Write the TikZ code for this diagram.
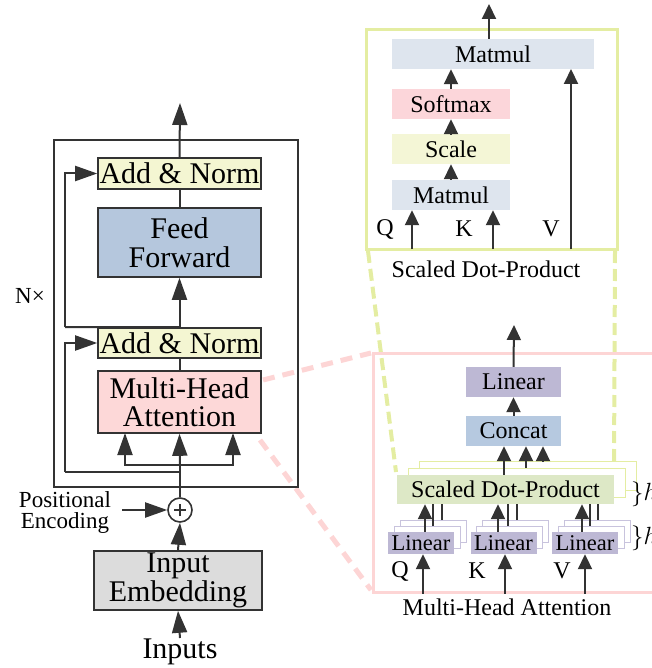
\documentclass[tikz,border=0pt]{standalone}
\usepackage{fontspec}
\setmainfont{Liberation Serif}
\usetikzlibrary{arrows.meta}

\definecolor{edge}{HTML}{333333}
\definecolor{normfill}{HTML}{F4F6D2}
\definecolor{fffill}{HTML}{B5C7DD}
\definecolor{attfill}{HTML}{FDD8D8}
\definecolor{embfill}{HTML}{DCDCDC}
\definecolor{matfill}{HTML}{DEE5EE}
\definecolor{softfill}{HTML}{FCD6DA}
\definecolor{scalefill}{HTML}{F4F6D6}
\definecolor{linfill}{HTML}{BDB8D4}
\definecolor{catfill}{HTML}{B6C9E0}
\definecolor{sdpfill}{HTML}{DDE8C6}
\definecolor{sdpline}{HTML}{E4EDA2}
\definecolor{mhaline}{HTML}{FDD5D5}
\definecolor{linline}{HTML}{C8C3DD}

\newcommand\fbig{\fontsize{30}{28.5}\selectfont}
\newcommand\fmid{\fontsize{24}{24}\selectfont}
\newcommand\fpos{\fontsize{23}{21}\selectfont}
\newcommand\fsml{\fontsize{22.5}{22.5}\selectfont}

\tikzset{
  blk/.style={draw=edge, line width=1.6pt, inner sep=0pt, align=center, font=\fbig},
  pane/.style={inner sep=0pt, align=center, font=\fmid},
  bigarr/.style={draw=edge, line width=2pt, -{Triangle[width=15pt,length=22pt]}},
  smallarr/.style={draw=edge, line width=2pt, -{Triangle[width=14pt,length=15pt]}},
  wire/.style={draw=edge, line width=2pt},
  lbl/.style={inner sep=0pt, font=\fmid},
  zoomdash/.style={line width=5pt, dash pattern=on 12pt off 8pt},
}

\begin{document}
\begin{tikzpicture}[x=1pt,y=-1pt]
\useasboundingbox (0,0) rectangle (651,668);

% ---------- zoom guides ----------
\draw[mhaline, zoomdash] (263,380) coordinate (gA) -- (371,353) coordinate (gB);
\draw[mhaline, zoomdash] (260,440) coordinate (gC) -- (371,590) coordinate (gD);
\draw[sdpline, line width=4pt, dash pattern=on 12pt off 6pt] (368,251) coordinate (gE) -- (396,472) coordinate (gF);
\draw[sdpline, line width=4pt, dash pattern=on 12pt off 6pt] (615,251) coordinate (gG) -- (614,468) coordinate (gH);

% ---------- encoder stack ----------
\node[draw=edge, line width=1.6pt, minimum width=244pt, minimum height=347pt, inner sep=0pt] (enc) at (176,313.5) {};
\node[blk, fill=normfill, minimum width=163pt, minimum height=31pt] (an2) at (179.5,173.5) {Add \& Norm};
\node[blk, fill=fffill, minimum width=163pt, minimum height=69pt] (ff) at (179.5,242.5) {Feed\\Forward};
\node[blk, fill=normfill, minimum width=163pt, minimum height=30pt] (an1) at (179.5,343) {Add \& Norm};
\node[blk, fill=attfill, minimum width=163pt, minimum height=62pt] (mha) at (179.5,402) {Multi-Head\\Attention};
\node[circle, draw=edge, line width=1.6pt, minimum size=24pt, inner sep=0pt] (plus) at (180,510) {};
\draw[edge, line width=1.4pt] ([xshift=-6pt]plus.center) -- ([xshift=6pt]plus.center)
      ([yshift=-6pt]plus.center) -- ([yshift=6pt]plus.center);
\node[blk, fill=embfill, minimum width=168pt, minimum height=59pt] (emb) at (178,580.5) {Input\\Embedding};
\node[inner sep=0pt, font=\fbig] (inp) at (180,652) {Inputs};
\node[inner sep=0pt, font=\fpos, align=center] (pe) at (65,512) {Positional\\Encoding};
\node[inner sep=0pt, font=\fpos] (nx) at (30,296) {N×};

\coordinate (out) at (180,103);
\coordinate (lanetop) at (65,327);
\coordinate (lanebot) at (65,472);
\coordinate (fork) at (180,465);
\coordinate (tap) at (180,472);
\coordinate (qin) at (125,433);
\coordinate (vin) at (233,433);
\coordinate (petail) at (122,510);
\coordinate (intail) at (180,638);

\draw[bigarr] (an2.north) -- (out);
\draw[wire] (ff.north) -- (an2.south);
\draw[bigarr] (an1.north) -- (ff.south);
\draw[wire] (an1.north) -- (lanetop);
\draw[bigarr] (lanetop) |- (an2.west);
\draw[wire] (mha.north) -- (an1.south);
\draw[wire] (plus.north) -- (fork);
\draw[bigarr] (fork) -- (mha.south);
\draw[bigarr] (fork) -| (qin);
\draw[bigarr] (fork) -| (vin);
\draw[wire] (tap) -- (lanebot);
\draw[bigarr] (lanebot) |- (an1.west);
\draw[bigarr] (petail) -- (plus.west);
\draw[bigarr] (emb.north) -- (plus.south);
\draw[bigarr] (intail) -- (emb.south);

% ---------- scaled dot-product attention ----------
\node[draw=sdpline, line width=3pt, minimum width=251pt, minimum height=219pt, inner sep=0pt] (sdpframe) at (491.5,139.5) {};
\node[pane, fill=matfill, minimum width=202pt, minimum height=30pt] (mm2) at (493,54) {Matmul};
\node[pane, fill=softfill, minimum width=118pt, minimum height=30pt] (sm) at (451,104) {Softmax};
\node[pane, fill=scalefill, minimum width=118pt, minimum height=30pt] (sc) at (451,149) {Scale};
\node[pane, fill=matfill, minimum width=118pt, minimum height=30pt] (mm1) at (451,195) {Matmul};
\node[lbl] (tq) at (385,229) {Q};
\node[lbl] (tk) at (464,229) {K};
\node[lbl] (tv) at (551,229) {V};
\node[lbl] (tsdp) at (486,269) {Scaled Dot-Product};

\coordinate (sdpout0) at (489,39);
\coordinate (sdpout) at (489,4);
\coordinate (qa) at (412,249);
\coordinate (ka) at (493,249);
\coordinate (va) at (571,249);
\coordinate (vb) at (571,69);

\draw[smallarr] (sdpout0) -- (sdpout);
\draw[smallarr] (mm1.north) -- (sc.south);
\draw[smallarr] (sc.north) -- (sm.south);
\draw[smallarr] (sm.north) -- (sm.north |- mm2.south);
\draw[smallarr] (qa) -- (qa |- mm1.south);
\draw[smallarr] (ka) -- (ka |- mm1.south);
\draw[smallarr] (va) -- (vb);

% ---------- multi-head attention ----------
\node[draw=mhaline, line width=3pt, minimum width=300pt, minimum height=239pt, inner sep=0pt] (mhaframe) at (523,472.5) {};
\node[pane, fill=linfill, minimum width=95pt, minimum height=30pt] (lin) at (513.5,382) {Linear};
\node[pane, fill=catfill, minimum width=95pt, minimum height=30pt] (cat) at (513.5,431) {Concat};

% stacked heads of the attention block
\node[draw=sdpline, line width=1pt, fill=white, minimum width=217pt, minimum height=29pt] (sdp2) at (527.5,475.5) {};
\node[draw=sdpline, line width=1pt, fill=white, minimum width=217pt, minimum height=29pt] (sdp1) at (516.5,482.5) {};
\node[pane, fill=sdpfill, minimum width=217pt, minimum height=29pt] (sdp) at (505.5,489.5) {Scaled Dot-Product};

% stacked linear projections
\foreach \nm/\cx in {la/421, lb/503.5, lc/585} {
  \node[draw=linline, line width=1pt, fill=white, minimum width=66pt, minimum height=22pt] (\nm2) at (\cx+12,531) {};
  \node[draw=linline, line width=1pt, fill=white, minimum width=66pt, minimum height=22pt] (\nm1) at (\cx+6,537) {};
  \node[inner sep=0pt, font=\fsml, fill=linfill, minimum width=66pt, minimum height=22pt] (\nm) at (\cx,543) {Linear};
}

\node[lbl] (mq) at (400,571) {Q};
\node[lbl] (mk) at (477,571) {K};
\node[lbl] (mv) at (562,571) {V};
\node[lbl] (tmha) at (507,607) {Multi-Head Attention};
\node[inner sep=0pt, anchor=west, font=\fontsize{26}{26}\selectfont] (hA) at (631,494) {$\}h$};
\node[inner sep=0pt, anchor=west, font=\fontsize{26}{26}\selectfont] (hB) at (631,538) {$\}h$};

\coordinate (linout) at (514,325);
\draw[smallarr] (lin.north) -- (linout);
\draw[smallarr] (cat.north) -- (lin.south);
\draw[smallarr] (sdp.north -| 504,0) -- (cat.south -| 504,0);
\draw[smallarr] (sdp1.north -| 526,0) -- (cat.south -| 526,0);
\draw[smallarr] (sdp2.north -| 543,0) -- (cat.south -| 543,0);

\foreach \nm/\ax/\bx/\cx/\ix in {la/425/433/442/423, lb/498/508/517/505, lc/582/590/598/585} {
  \draw[smallarr] (\nm.north -| \ax,0) -- (sdp.south -| \ax,0);
  \draw[wire] (\nm1.north -| \bx,0) -- (sdp.south -| \bx,0);
  \draw[wire] (\nm2.north -| \cx,0) -- (sdp.south -| \cx,0);
  \draw[smallarr] (mhaframe.south -| \ix,0) -- (\nm.south -| \ix,0);
}
\end{tikzpicture}
\end{document}
